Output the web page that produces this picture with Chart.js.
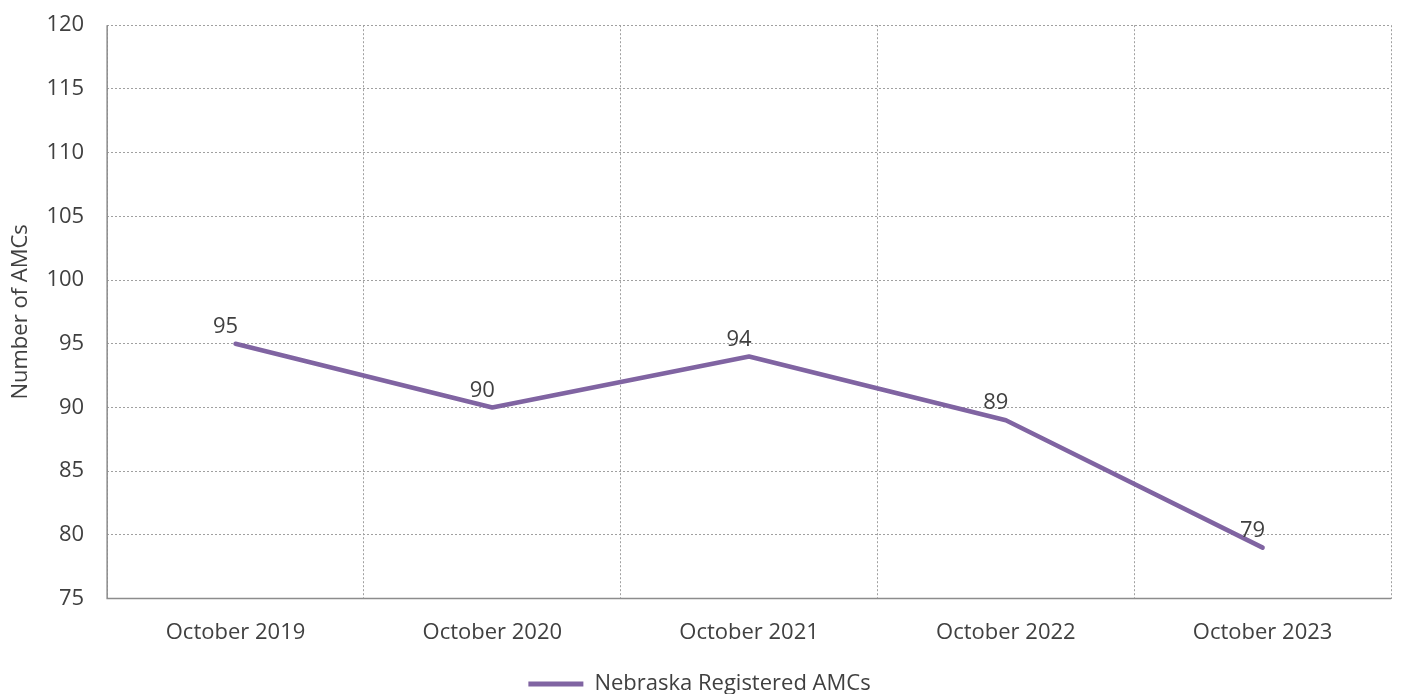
<!DOCTYPE html>
<html>
<head>
<meta charset="utf-8">
<script src="https://cdn.jsdelivr.net/npm/chart.js@4"></script>
<style>
  html, body { margin: 0; padding: 0; background: #fff; }
  #wrap { width: 1403px; height: 694px; }
</style>
</head>
<body>
<div id="wrap"><canvas id="amcChart" width="1403" height="694"></canvas></div>
<script>
// Data
const categories = ['October 2019', 'October 2020', 'October 2021', 'October 2022', 'October 2023'];
const amcValues = [95, 90, 94, 89, 79];
const seriesName = 'Nebraska Registered AMCs';
const yTitle = 'Number of AMCs';

const purple = '#8064a2';
const textColor = '#404040';
const gridColor = '#a0a0a0';
const axisColor = '#8c8c8c';
const fontFamily = "'Open Sans', 'Liberation Sans', sans-serif";
const fontSize = 22;

// Value labels above each point
const pointLabels = {
  id: 'pointLabels',
  afterDatasetsDraw(chart) {
    const ctx = chart.ctx;
    const meta = chart.getDatasetMeta(0);
    ctx.save();
    ctx.font = `${fontSize}px ${fontFamily}`;
    ctx.fillStyle = textColor;
    ctx.textAlign = 'center';
    ctx.textBaseline = 'bottom';
    meta.data.forEach((pt, i) => {
      ctx.fillText(String(amcValues[i]), pt.x - 10, pt.y - 6);
    });
    ctx.restore();
  }
};

// Solid axis lines on the left and bottom (grid lines themselves are dotted)
const solidAxes = {
  id: 'solidAxes',
  afterDraw(chart) {
    const a = chart.chartArea;
    const ctx = chart.ctx;
    ctx.save();
    ctx.strokeStyle = axisColor;
    ctx.lineWidth = 1.5;
    ctx.setLineDash([]);
    ctx.beginPath();
    ctx.moveTo(a.left, a.top);
    ctx.lineTo(a.left, a.bottom);
    ctx.lineTo(a.right, a.bottom);
    ctx.stroke();
    ctx.restore();
  }
};

const ctx = document.getElementById('amcChart').getContext('2d');
new Chart(ctx, {
  type: 'line',
  data: {
    labels: categories,
    datasets: [{
      label: seriesName,
      data: amcValues,
      borderColor: purple,
      backgroundColor: purple,
      borderWidth: 4.5,
      pointRadius: 0,
      tension: 0,
      borderCapStyle: 'round',
      borderJoinStyle: 'round'
    }]
  },
  options: {
    responsive: false,
    animation: false,
    layout: { padding: { left: 8, right: 12, top: 0, bottom: -11 } },
    scales: {
      x: {
        offset: true,
        grid: {
          offset: true,
          drawTicks: false,
          color: gridColor,
          lineWidth: 1
        },
        border: { display: false, dash: [2, 2] },
        ticks: {
          color: textColor,
          font: { family: fontFamily, size: fontSize },
          padding: 21
        }
      },
      y: {
        min: 75,
        max: 120,
        ticks: {
          stepSize: 5,
          color: textColor,
          font: { family: fontFamily, size: fontSize },
          padding: 12,
          // en space keeps the labels clear of the axis like the original
          callback: (v) => v + '\u2002'
        },
        grid: {
          drawTicks: false,
          color: gridColor,
          lineWidth: 1
        },
        border: { display: false, dash: [2, 2] },
        title: {
          display: true,
          text: yTitle,
          color: textColor,
          font: { family: fontFamily, size: fontSize },
          padding: { top: 0, bottom: 0 }
        }
      }
    },
    plugins: {
      legend: {
        position: 'bottom',
        labels: {
          color: textColor,
          font: { family: fontFamily, size: fontSize },
          boxWidth: 55,
          boxHeight: 5,
          padding: 6,
          generateLabels(chart) {
            return chart.data.datasets.map((ds, i) => ({
              text: ds.label,
              fillStyle: purple,
              strokeStyle: purple,
              lineWidth: 0,
              fontColor: textColor,
              datasetIndex: i
            }));
          }
        }
      },
      tooltip: { enabled: false }
    }
  },
  plugins: [pointLabels, solidAxes]
});
</script>
</body>
</html>
